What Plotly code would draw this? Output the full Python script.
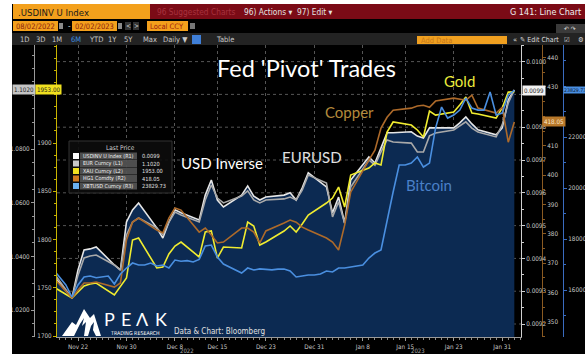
import plotly.graph_objects as go
import pandas as pd

# ---------------- DATA ----------------
dates = ["2022-11-18", "2022-11-21", "2022-11-22", "2022-11-23", "2022-11-24", "2022-11-25",
         "2022-11-28", "2022-11-29", "2022-11-30",
         "2022-12-01", "2022-12-02", "2022-12-05", "2022-12-06", "2022-12-07", "2022-12-08",
         "2022-12-09", "2022-12-12", "2022-12-13", "2022-12-14", "2022-12-15", "2022-12-16",
         "2022-12-19", "2022-12-20", "2022-12-21", "2022-12-22", "2022-12-23", "2022-12-26",
         "2022-12-27", "2022-12-28", "2022-12-29", "2022-12-30",
         "2023-01-02", "2023-01-03", "2023-01-04", "2023-01-05", "2023-01-06", "2023-01-09",
         "2023-01-10", "2023-01-11", "2023-01-12", "2023-01-13", "2023-01-16", "2023-01-17",
         "2023-01-18", "2023-01-19", "2023-01-20", "2023-01-23", "2023-01-24", "2023-01-25",
         "2023-01-26", "2023-01-27", "2023-01-30", "2023-01-31",
         "2023-02-01", "2023-02-02"]

usdinv = [0.009346, 0.009279, 0.009365, 0.009426, 0.009429, 0.009435, 0.009380, 0.009365, 0.009511,
          0.009548, 0.009569, 0.009493, 0.009462, 0.009511, 0.009548, 0.009539, 0.009517, 0.009593,
          0.009639, 0.009578, 0.009557, 0.009593, 0.009621, 0.009590, 0.009578, 0.009587, 0.009593,
          0.009600, 0.009578, 0.009615, 0.009661,
          0.009618, 0.009539, 0.009587, 0.009508, 0.009639, 0.009709, 0.009691, 0.009737, 0.009783,
          0.009783, 0.009786, 0.009773, 0.009767, 0.009798, 0.009798, 0.009798, 0.009813, 0.009831,
          0.009810, 0.009792, 0.009777, 0.009798,
          0.009883, 0.009914]

eurusd = [1.0338, 1.0245, 1.0330, 1.0394, 1.0401, 1.0405, 1.0368, 1.0349, 1.0480,
          1.0528, 1.0543, 1.0506, 1.0480, 1.0528, 1.0565, 1.0554, 1.0528, 1.0610, 1.0666, 1.0617,
          1.0599, 1.0625, 1.0644, 1.0610, 1.0599, 1.0610, 1.0614, 1.0621, 1.0610, 1.0647, 1.0703,
          1.0673, 1.0547, 1.0603, 1.0524, 1.0658, 1.0759, 1.0740, 1.0789, 1.0834, 1.0826, 1.0822,
          1.0789, 1.0789, 1.0849, 1.0860, 1.0871, 1.0886, 1.0901, 1.0878, 1.0863, 1.0845, 1.0890,
          1.0972, 1.1020]

gold = [1750.8, 1739.4, 1745.6, 1751.8, 1753.9, 1754.9, 1742.5, 1750.8, 1760.1,
        1799.5, 1801.6, 1770.5, 1771.5, 1785.0, 1793.3, 1797.4, 1781.9, 1807.8, 1808.8, 1780.8,
        1792.2, 1791.2, 1818.1, 1814.0, 1794.3, 1797.4, 1808.8, 1814.0, 1807.8, 1816.1, 1825.4,
        1837.8, 1843.0, 1854.4, 1833.7, 1866.8, 1874.1, 1879.3, 1877.2, 1911.4, 1921.8, 1918.6,
        1913.5, 1906.2, 1933.2, 1929.0, 1932.1, 1939.4, 1947.7, 1931.1, 1930.1, 1925.9, 1936.3,
        1952.8, 1953.00]

copper = [365.0, 358.2, 360.9, 363.3, 363.3, 363.6, 361.9, 363.3, 377.9,
          384.0, 385.4, 381.3, 380.3, 385.4, 388.8, 388.1, 380.6, 382.0, 379.6, 376.9,
          377.2, 382.0, 382.0, 380.6, 376.9, 381.0, 383.7, 384.7, 384.0, 382.3, 381.3,
          378.6, 377.2, 374.5, 383.0, 394.2, 405.1, 408.5, 416.0, 419.7, 422.1, 422.8,
          423.5, 423.8, 423.1, 425.2, 426.2, 425.9, 425.5, 427.2, 422.8, 421.1, 423.1,
          411.2, 418.05]

btc_dates = [d.strftime("%Y-%m-%d") for d in pd.date_range("2022-11-18", "2023-02-02", freq="D")]
btc = [16784, 16510, 16196, 15726, 16196, 16510, 16550, 16480, 16520, 16549, 16235, 16627, 16862,
       17058, 16980, 16980, 17058, 16941, 16980, 16862, 17176, 17130, 17150, 17100, 17200, 17725,
       17764, 17294, 17019, 16902, 16784, 16666, 16862, 16784, 16830, 16800, 16790, 16820, 16823,
       16745, 16510, 16549, 16588, 16588,
       16627, 16745, 16706, 16862, 16862, 16902, 16941, 16980, 17254, 17450, 17568, 18744, 19842,
       20900, 20900, 20978, 21214, 20822, 20978, 22350, 23174, 22742, 22860, 23056, 23526, 23134,
       23056, 23056, 23762, 22860, 22938,
       23644, 23829.73]

tick_dates = ["2022-11-22", "2022-11-30", "2022-12-08", "2022-12-15", "2022-12-23",
              "2022-12-31", "2023-01-08", "2023-01-15", "2023-01-23", "2023-01-31"]
tick_text = ["Nov 22", "Nov 30", "Dec 8", "Dec 15", "Dec 23",
             "Dec 31", "Jan 8", "Jan 15", "Jan 23", "Jan 31"]

eur_ticks = [1.02, 1.04, 1.06, 1.08]
gold_ticks = [1700, 1750, 1800, 1850, 1900]
usd_ticks = [0.0092, 0.0093, 0.0094, 0.0095, 0.0096, 0.0097, 0.0098, 0.0100]
usd_grid = [0.0092, 0.0093, 0.0094, 0.0095, 0.0096, 0.0097, 0.0098, 0.0099, 0.0100]
cu_ticks = [350, 360, 370, 380, 390, 400, 410, 430, 440]
btc_ticks = [16000, 18000, 20000, 22000]

legend_names = ["USDINV U Index (R1)", "EUR Curncy (L1)", "XAU Curncy (L2)",
                "HG1 Comdty (R2)", "XBTUSD Curncy (R3)"]
legend_values = ["0.0099", "1.1020", "1953.00", "418.05", "23829.73"]

# ---------------- GEOMETRY / STYLE ----------------
W, H = 585, 354
TOP, BOT = 45, 337
FONT = "DejaVu Sans Condensed, Liberation Sans Narrow, sans-serif"
TFONT = "Lato, Open Sans, sans-serif"


def PX(x):
    return x / W


def PY(y):
    return (BOT - y) / (BOT - TOP)


C_WHITE = "#e6e6e6"
C_GREY = "#a9a9a9"
C_GOLD = "#f0ec30"
C_COPPER = "#ad6a2a"
C_BTC = "#4a8fe0"
C_FILL = "#0c2a52"

day0 = pd.Timestamp("2022-11-22")
ppd = 6.06
x_lo = day0 - pd.Timedelta(days=(78 - 57) / ppd)
x_hi = day0 + pd.Timedelta(days=(521 - 78) / ppd)

fig = go.Figure()
fig.add_trace(go.Scatter(x=dates, y=usdinv, yaxis="y", mode="lines",
                         line=dict(color=C_WHITE, width=1.6), fill="tozeroy", fillcolor=C_FILL))
fig.add_trace(go.Scatter(x=dates, y=eurusd, yaxis="y2", mode="lines",
                         line=dict(color=C_GREY, width=1.6)))
fig.add_trace(go.Scatter(x=dates, y=gold, yaxis="y3", mode="lines",
                         line=dict(color=C_GOLD, width=1.6)))
fig.add_trace(go.Scatter(x=dates, y=copper, yaxis="y4", mode="lines",
                         line=dict(color=C_COPPER, width=1.6)))
fig.add_trace(go.Scatter(x=btc_dates, y=btc, yaxis="y5", mode="lines",
                         line=dict(color=C_BTC, width=1.6)))

tf = dict(size=6.3, color="#c8c8c8", family=FONT)


def yax(color, rng, tickvals, fmt, mdt, **kw):
    d = dict(range=rng, tickvals=tickvals, tickformat=fmt, showline=True, linecolor=color,
             linewidth=1, ticks="outside", ticklen=3, tickcolor=color, tickfont=tf,
             showgrid=False, zeroline=False, automargin=False,
             minor=dict(ticks="outside", ticklen=2, tickcolor=color, dtick=mdt))
    d.update(kw)
    return d


fig.update_layout(
    width=W, height=H, margin=dict(l=0, r=0, t=TOP, b=H - BOT, autoexpand=False),
    paper_bgcolor="black", plot_bgcolor="black", showlegend=False,
    xaxis=dict(domain=[PX(57), PX(521)], range=[x_lo, x_hi], type="date", automargin=False,
               tickvals=tick_dates, ticktext=tick_text, tickfont=tf,
               showgrid=True, gridcolor="#555555", griddash="dot", gridwidth=1,
               showline=True, linecolor="#9a9a9a", ticks="outside", ticklen=3, tickcolor="#9a9a9a",
               minor=dict(ticks="outside", ticklen=2, dtick=86400000, tickcolor="#8a8a8a"),
               zeroline=False),
    yaxis=yax("#d0d0d0", [0.0091604, 0.0100506], usd_ticks, ".4f", 0.00005,
              side="right", anchor="x"),
    yaxis2=yax("#9a9a9a", [1.00994, 1.11876], eur_ticks, ".4f", 0.005, overlaying="y",
               side="left", anchor="free", position=PX(34)),
    yaxis3=yax("#c8b400", [1698.96, 2001.6], gold_ticks, "d", 12.5, overlaying="y",
               side="left", anchor="x"),
    yaxis4=yax("#8a5a22", [344.9, 444.29], cu_ticks, "d", 5, overlaying="y", side="right",
               anchor="free", position=PX(542)),
    yaxis5=yax("#3a6cc0", [14157, 25608], btc_ticks, "d", 1000, overlaying="y", side="right",
               anchor="free", position=PX(563)),
)

shapes = []
ann = []

# R1 grid lines (incl. the one behind the last-price tag)
for gv in usd_grid:
    shapes.append(dict(type="line", xref="paper", yref="y", x0=PX(57), x1=PX(521), y0=gv, y1=gv,
                       line=dict(color="#555555", width=1, dash="dot"), layer="below"))


def rect(x0, y0, x1, y1, fill, line=None, lw=0):
    shapes.append(dict(type="rect", xref="paper", yref="paper", x0=PX(x0), x1=PX(x1),
                       y0=PY(y1), y1=PY(y0), fillcolor=fill, layer="above",
                       line=dict(width=lw, color=line or fill)))


def txt(x, y, s, size, color, anchor="left", font=FONT, bg="rgba(0,0,0,0)", pad=1):
    ann.append(dict(x=PX(x), y=PY(y), xref="paper", yref="paper", text=s, showarrow=False,
                    xanchor=anchor, yanchor="middle", bgcolor=bg, borderpad=pad,
                    font=dict(size=size, color=color, family=font)))


# ---- header bars ----
rect(0, 0, 585, 4, "white")
rect(0, 0, 12, 354, "white")
rect(13, 4, 150, 19, "#f3a01c")
rect(150, 4, 585, 19, "#7b0b16")
txt(16, 12, ".USDINV U Index", 9.5, "#1a1a1a")
txt(155, 12, "96 Suggested Charts", 8.3, "#a8323e")
txt(242, 12, "96) Actions ▾", 8.3, "#e4e4e4")
txt(295, 12, "97) Edit ▾", 8.3, "#e4e4e4")
txt(583, 12, "G 141: Line Chart", 9, "#f0f0f0", anchor="right")

rect(13, 21, 58, 31, "#f3a01c")
txt(14, 26, "08/02/2022", 7.5, "#8a1c10")
rect(59, 23, 63, 29, "#8a8a8a")
txt(66, 26, "-", 8, "#cccccc")
rect(72, 21, 117, 31, "#f3a01c")
txt(73, 26, "02/02/2023", 7.5, "#8a1c10")
rect(118, 23, 122, 29, "#8a8a8a")
rect(125, 22, 131, 30, "#333333")
rect(133, 22, 139, 30, "#333333")
txt(128, 26, "<", 6.5, "#dddddd", anchor="center")
txt(136, 26, ">", 6.5, "#dddddd", anchor="center")
rect(147, 21, 188, 31, "#f3a01c")
txt(148, 26, "Local CCY", 7.5, "#a0200f")
rect(190, 23, 195, 29, "#777777")
rect(556, 24, 585, 33, "#3a3a3a")
txt(570, 28.5, "↶ ↷", 6.5, "#dddddd", anchor="center")

rect(12, 33, 585, 45, "#232323")
for lab, xx, col in [("1D", 18, "#c8c8c8"), ("3D", 34, "#c8c8c8"), ("1M", 50, "#c8c8c8"),
                     ("6M", 69, "#3d8fe0"), ("YTD", 87, "#c8c8c8"), ("1Y", 106, "#c8c8c8"),
                     ("5Y", 122, "#c8c8c8"), ("Max", 141, "#c8c8c8"), ("Daily ▼", 161, "#c8c8c8"),
                     ("Table", 214, "#c8c8c8")]:
    txt(xx, 39.5, lab, 7.5, col)
rect(192, 35, 201, 44, "#3f7fd8")
rect(417, 36, 507, 44, "#f0a020")
txt(419, 40, "Add Data", 7.5, "#c8781a")
txt(511, 39.5, "«", 7.5, "#dddddd")
txt(518, 39.5, "✎ Edit Chart", 7, "#dddddd")
txt(562, 39.5, "☑", 7, "#dddddd")
txt(576, 39.5, "⚙", 7, "#dddddd")

# ---- last price tags ----
txt(12, 90, "1.1020", 6.2, "#1a1a1a", bg="#c4c4c4")
txt(35, 90, "1953.00", 6.2, "#1a1a1a", bg="#f0e020")
txt(522, 91, "0.0099", 6.2, "#1a1a1a", bg="#f2f2f2")
txt(542, 121, "418.05", 6.2, "#f8e8d0", bg="#b8782a")
txt(563, 90, "23829.73", 5.2, "#0a1a3a", bg="#4a90e2", pad=0)

# ---- legend box ----
rect(69, 141, 172, 193, "rgba(12,12,12,0.9)", line="#333333", lw=1)
txt(120, 148, "Last Price", 6.5, "#cfcfcf", anchor="center")
sq_cols = ["#ffffff", "#c8c8c8", "#f0e020", "#d07a20", "#6ab0f0"]
for i, (nm, val, sc) in enumerate(zip(legend_names, legend_values, sq_cols)):
    yy = 156 + i * 7.5
    rect(73, yy - 3, 79, yy + 3, sc)
    rect(80, yy - 3.4, 137, yy + 3.4, "rgba(215,215,215,0.33)")
    txt(81, yy, nm, 5.4, "#f0f0f0")
    txt(140, yy, val, 5.6, "#e0e0e0")

# ---- chart labels ----
txt(306, 68, "Fed 'Pivot' Trades", 23.5, "#ffffff", anchor="center", font=TFONT)
txt(459, 81, "Gold", 15, "#ecec3c", anchor="center", font=TFONT)
txt(349, 112, "Copper", 15, "#b38a3c", anchor="center", font=TFONT)
txt(222, 163, "USD Inverse", 15, "#ffffff", anchor="center", font=TFONT)
txt(312, 157, "EURUSD", 15, "#e0e0e0", anchor="center", font=TFONT)
txt(429, 185, "Bitcoin", 15, "#4a80c8", anchor="center", font=TFONT)

# ---- year labels ----
txt(187, 350, "2022", 6, "#aaaaaa", anchor="center")
txt(418, 350, "2023", 6, "#aaaaaa", anchor="center")


# ---- PEAK logo ----
def path(pts):
    return "M " + " L ".join(f"{PX(a):.5f},{PY(b):.5f}" for a, b in pts) + " Z"


shapes.append(dict(type="path", xref="paper", yref="paper", layer="above",
                   path=path([(62, 336), (72, 322), (76, 325), (84, 309), (90, 318), (94, 314), (101, 336)]),
                   fillcolor="white", line=dict(width=0)))
shapes.append(dict(type="path", xref="paper", yref="paper", layer="above",
                   path=path([(74, 336), (80, 324), (84, 318), (82, 326), (86, 322), (84, 336)]),
                   fillcolor=C_FILL, line=dict(width=0)))
shapes.append(dict(type="path", xref="paper", yref="paper", layer="above",
                   path=path([(88, 336), (91, 326), (94, 322), (93, 330), (96, 336)]),
                   fillcolor=C_FILL, line=dict(width=0)))
for ch, xx in [("P", 109), ("E", 126), ("Λ", 142), ("K", 161)]:
    txt(xx, 319, ch, 18, "#ffffff", anchor="center", font=TFONT)
txt(135, 332.5, "TRADING RESEARCH", 5.3, "#ffffff", anchor="center")
txt(172, 331, "Data & Chart: Bloomberg", 8, "#e0e0e0")

fig.update_layout(shapes=shapes, annotations=ann)
fig.write_html("out.html", config={"displayModeBar": False})
